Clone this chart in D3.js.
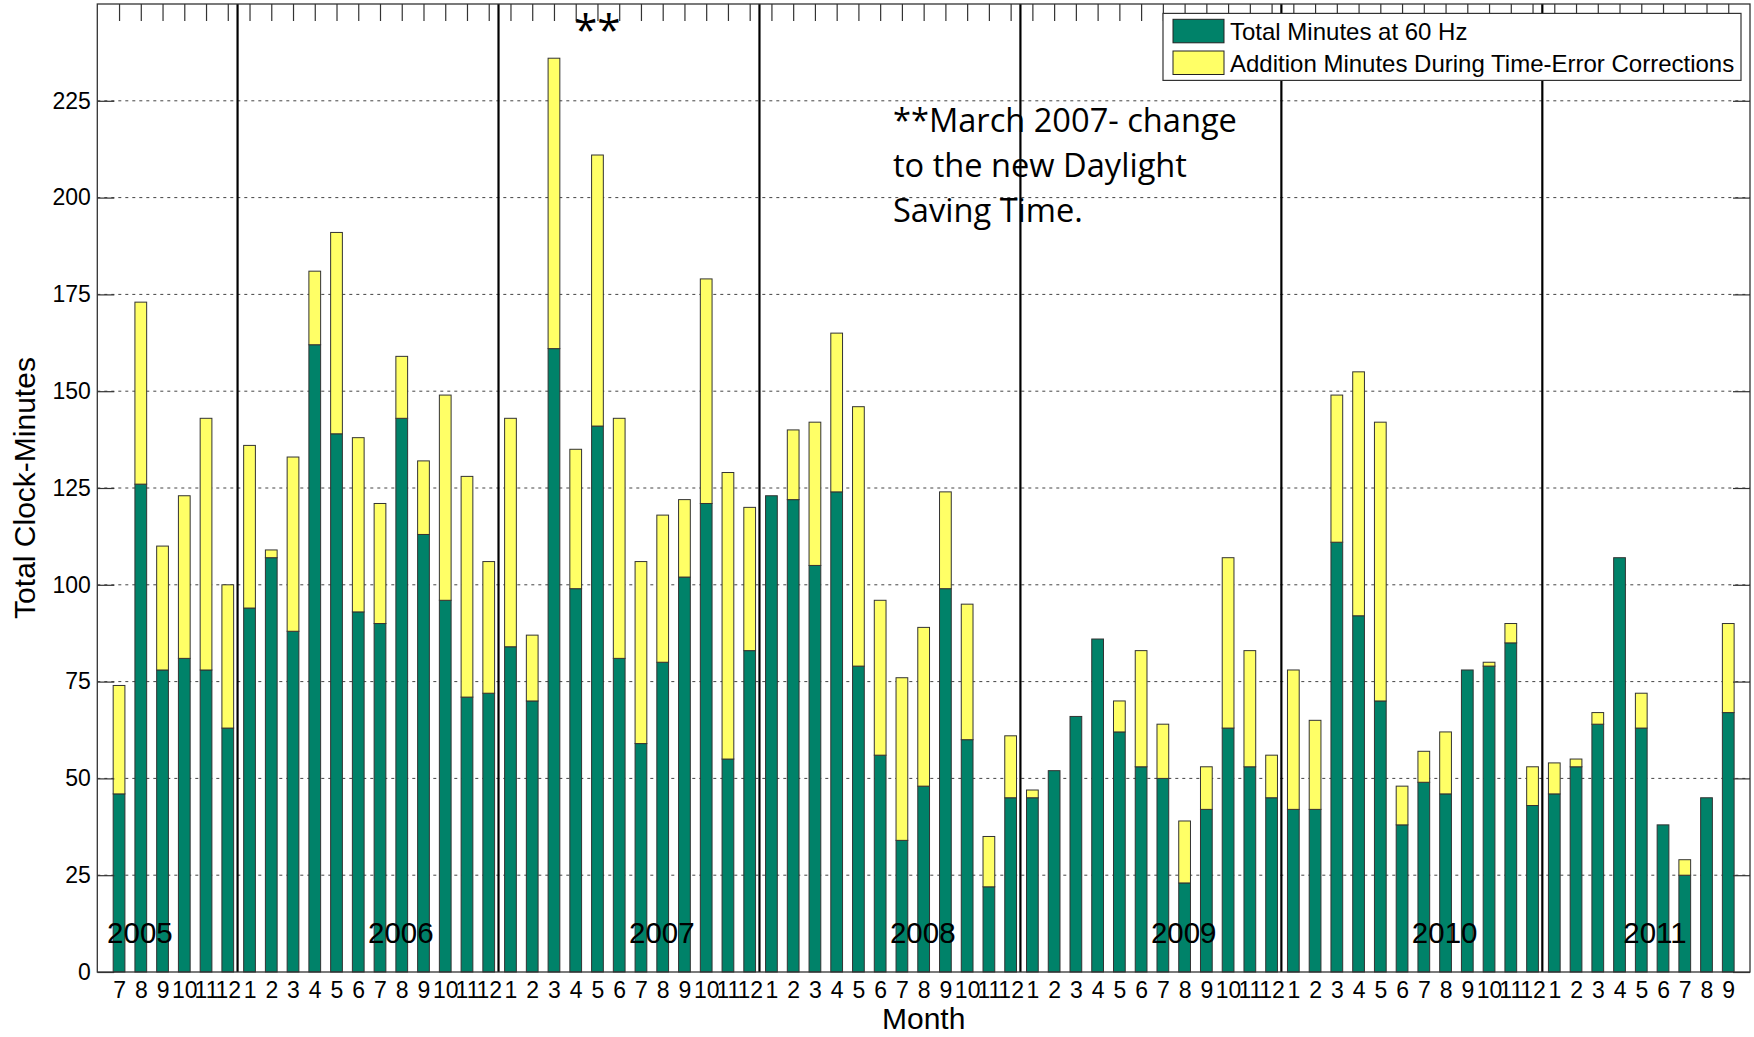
<!DOCTYPE html>
<html><head><meta charset="utf-8">
<script src="https://cdn.jsdelivr.net/npm/d3@7"></script>
<style>
body{margin:0;background:#fff;}
svg{display:block;font-family:"Liberation Sans",Arial,Helvetica,sans-serif;}
</style></head><body>
<svg id="chart" width="1754" height="1037"></svg>
<script>
// ---------------- data ----------------
const firstYear = 2005;
const monthLabels = [
  "7","8","9","10","11","12",
  "1","2","3","4","5","6","7","8","9","10","11","12",
  "1","2","3","4","5","6","7","8","9","10","11","12",
  "1","2","3","4","5","6","7","8","9","10","11","12",
  "1","2","3","4","5","6","7","8","9","10","11","12",
  "1","2","3","4","5","6","7","8","9","10","11","12",
  "1","2","3","4","5","6","7","8","9"
];
const minutesAt60Hz = [
  46,126,78,81,78,63,
  94,107,88,162,139,93,90,143,113,96,71,72,
  84,70,161,99,141,81,59,80,102,121,55,83,
  123,122,105,124,79,56,34,48,99,60,22,45,
  45,52,66,86,62,53,50,23,42,63,53,45,
  42,42,111,92,70,38,49,46,78,79,85,43,
  46,53,64,107,63,38,25,45,67
];
const additionMinutes = [
  28,47,32,42,65,37,
  42,2,45,19,52,45,31,16,19,53,57,34,
  59,17,75,36,70,62,47,38,20,58,74,37,
  0,18,37,41,67,40,42,41,25,35,13,16,
  2,0,0,0,8,30,14,16,11,44,30,11,
  36,23,38,63,72,10,8,16,0,1,5,10,
  8,2,3,0,9,0,4,0,23
];
const yTickValues = [0,25,50,75,100,125,150,175,200,225];
const yearLabels = ["2005","2006","2007","2008","2009","2010","2011"];
const yearLabelAt = [2005.5,2006.5,2007.5,2008.5,2009.5,2010.5,2011.31];
const yearSeparators = [2006,2007,2008,2009,2010,2011];
const seriesNames = ["Total Minutes at 60 Hz","Addition Minutes During Time-Error Corrections"];
const noteLines = ["**March 2007- change","to the new Daylight","Saving Time."];
const xTitle = "Month", yTitle = "Total Clock-Minutes";

// ---------------- build table ----------------
let yr = firstYear, prev = 0;
const rows = monthLabels.map((m,i)=>{
  const mm = +m;
  if (i>0 && mm < prev) yr++;
  prev = mm;
  return {t: yr + (mm - 0.45)/12, label: m, g: minutesAt60Hz[i], a: additionMinutes[i]};
});
const stacked = d3.stack().keys(["g","a"])(rows);

// ---------------- layout ----------------
const L=97.3, R=1750, T=4, B=972;
const step = 1/12;
const x = d3.scaleLinear().domain([rows[0].t - step, rows[rows.length-1].t + step]).range([L,R]);
const y = d3.scaleLinear().domain([0,250]).range([B,T]);
const bw = 0.54*(x(step)-x(0));
const colors = ["#008269","#ffff66"];
const svg = d3.select("#chart");

// grid
svg.append("g").selectAll("line").data(yTickValues.filter(v=>v>0)).join("line")
  .attr("x1",L).attr("x2",R).attr("y1",d=>y(d)).attr("y2",d=>y(d))
  .attr("stroke","#444").attr("stroke-width",1).attr("stroke-dasharray","3,4");

// bottom axis (ticks hidden below bars)
const gxb = svg.append("g").attr("transform",`translate(0,${B})`)
  .call(d3.axisBottom(x).tickValues(rows.map(r=>r.t)).tickFormat((d,i)=>rows[i].label)
    .tickSizeInner(-17).tickSizeOuter(0).tickPadding(9.7));
gxb.select(".domain").remove();
gxb.selectAll("line").attr("stroke","#333").attr("stroke-width",1.2);
gxb.selectAll("text").attr("font-size",23).attr("font-family","Liberation Sans, Arial, sans-serif").attr("fill","#000");

// bars
svg.append("g").selectAll("g").data(stacked).join("g")
  .attr("fill",(d,i)=>colors[i])
  .selectAll("rect").data(d=>d.filter(s=>s[1]-s[0]>0)).join("rect")
  .attr("x",d=>x(d.data.t)-bw/2).attr("width",bw)
  .attr("y",d=>y(d[1])).attr("height",d=>y(d[0])-y(d[1]))
  .attr("stroke","#333").attr("stroke-width",1);

// year separators
svg.append("g").selectAll("line").data(yearSeparators).join("line")
  .attr("x1",d=>x(d)).attr("x2",d=>x(d)).attr("y1",T).attr("y2",B)
  .attr("stroke","#000").attr("stroke-width",2.2);

// year labels
svg.append("g").selectAll("text").data(yearLabels).join("text")
  .attr("x",(d,i)=>x(yearLabelAt[i])).attr("y",943)
  .attr("font-size",29.5).attr("fill","#000").text(d=>d);

// top axis
const gxt = svg.append("g").attr("transform",`translate(0,${T})`)
  .call(d3.axisTop(x).tickValues(rows.map(r=>r.t)).tickFormat("").tickSizeInner(-17).tickSizeOuter(0));
gxt.select(".domain").remove();
gxt.selectAll("line").attr("stroke","#333").attr("stroke-width",1.2);

// left axis
const gyl = svg.append("g").attr("transform",`translate(${L},0)`)
  .call(d3.axisLeft(y).tickValues(yTickValues).tickSizeInner(-17).tickSizeOuter(0).tickPadding(6.5));
gyl.select(".domain").remove();
gyl.selectAll("line").attr("stroke","#333").attr("stroke-width",1.2);
gyl.selectAll("text").attr("font-size",23).attr("font-family","Liberation Sans, Arial, sans-serif").attr("fill","#000");

// right axis
const gyr = svg.append("g").attr("transform",`translate(${R},0)`)
  .call(d3.axisRight(y).tickValues(yTickValues).tickFormat("").tickSizeInner(-17).tickSizeOuter(0));
gyr.select(".domain").remove();
gyr.selectAll("line").attr("stroke","#333").attr("stroke-width",1.2);

// box
svg.append("rect").attr("x",L).attr("y",T).attr("width",R-L).attr("height",B-T)
  .attr("fill","none").attr("stroke","#333").attr("stroke-width",1.3);

// axis titles
svg.append("text").attr("x",(L+R)/2).attr("y",1029).attr("text-anchor","middle")
  .attr("font-size",30).attr("fill","#000").text(xTitle);
svg.append("text").attr("transform",`translate(35,${(T+B)/2}) rotate(-90)`).attr("text-anchor","middle")
  .attr("font-size",30).attr("fill","#000").text(yTitle);

// annotation
const noteFont = "'Open Sans','Noto Sans',sans-serif";
const probe = svg.append("text").attr("font-family",noteFont).attr("font-size",100).text(noteLines[0]);
const fs = 100*344/probe.node().getComputedTextLength();
probe.remove();
svg.append("g").selectAll("text").data(noteLines).join("text")
  .attr("x",893).attr("y",(d,i)=>131.7+45*i)
  .attr("font-family",noteFont).attr("font-size",fs).attr("fill","#000").text(d=>d);
svg.append("text").attr("x",574).attr("y",15+0.714*fs*1.3)
  .attr("font-family",noteFont).attr("font-size",fs*1.3).attr("fill","#000").text("**");

// legend
const lg = svg.append("g");
lg.append("rect").attr("x",1163).attr("y",13.4).attr("width",578).attr("height",67)
  .attr("fill","#fff").attr("stroke","#333").attr("stroke-width",1.2);
const items = lg.selectAll("g").data(seriesNames).join("g")
  .attr("transform",(d,i)=>`translate(0,${i*31.7})`);
items.append("rect").attr("x",1173).attr("y",19.3).attr("width",51).attr("height",23.5)
  .attr("fill",(d,i)=>colors[i]).attr("stroke","#222").attr("stroke-width",1);
items.append("text").attr("x",1230).attr("y",40).attr("font-size",24).attr("fill","#000").text(d=>d);
</script>
</body></html>
